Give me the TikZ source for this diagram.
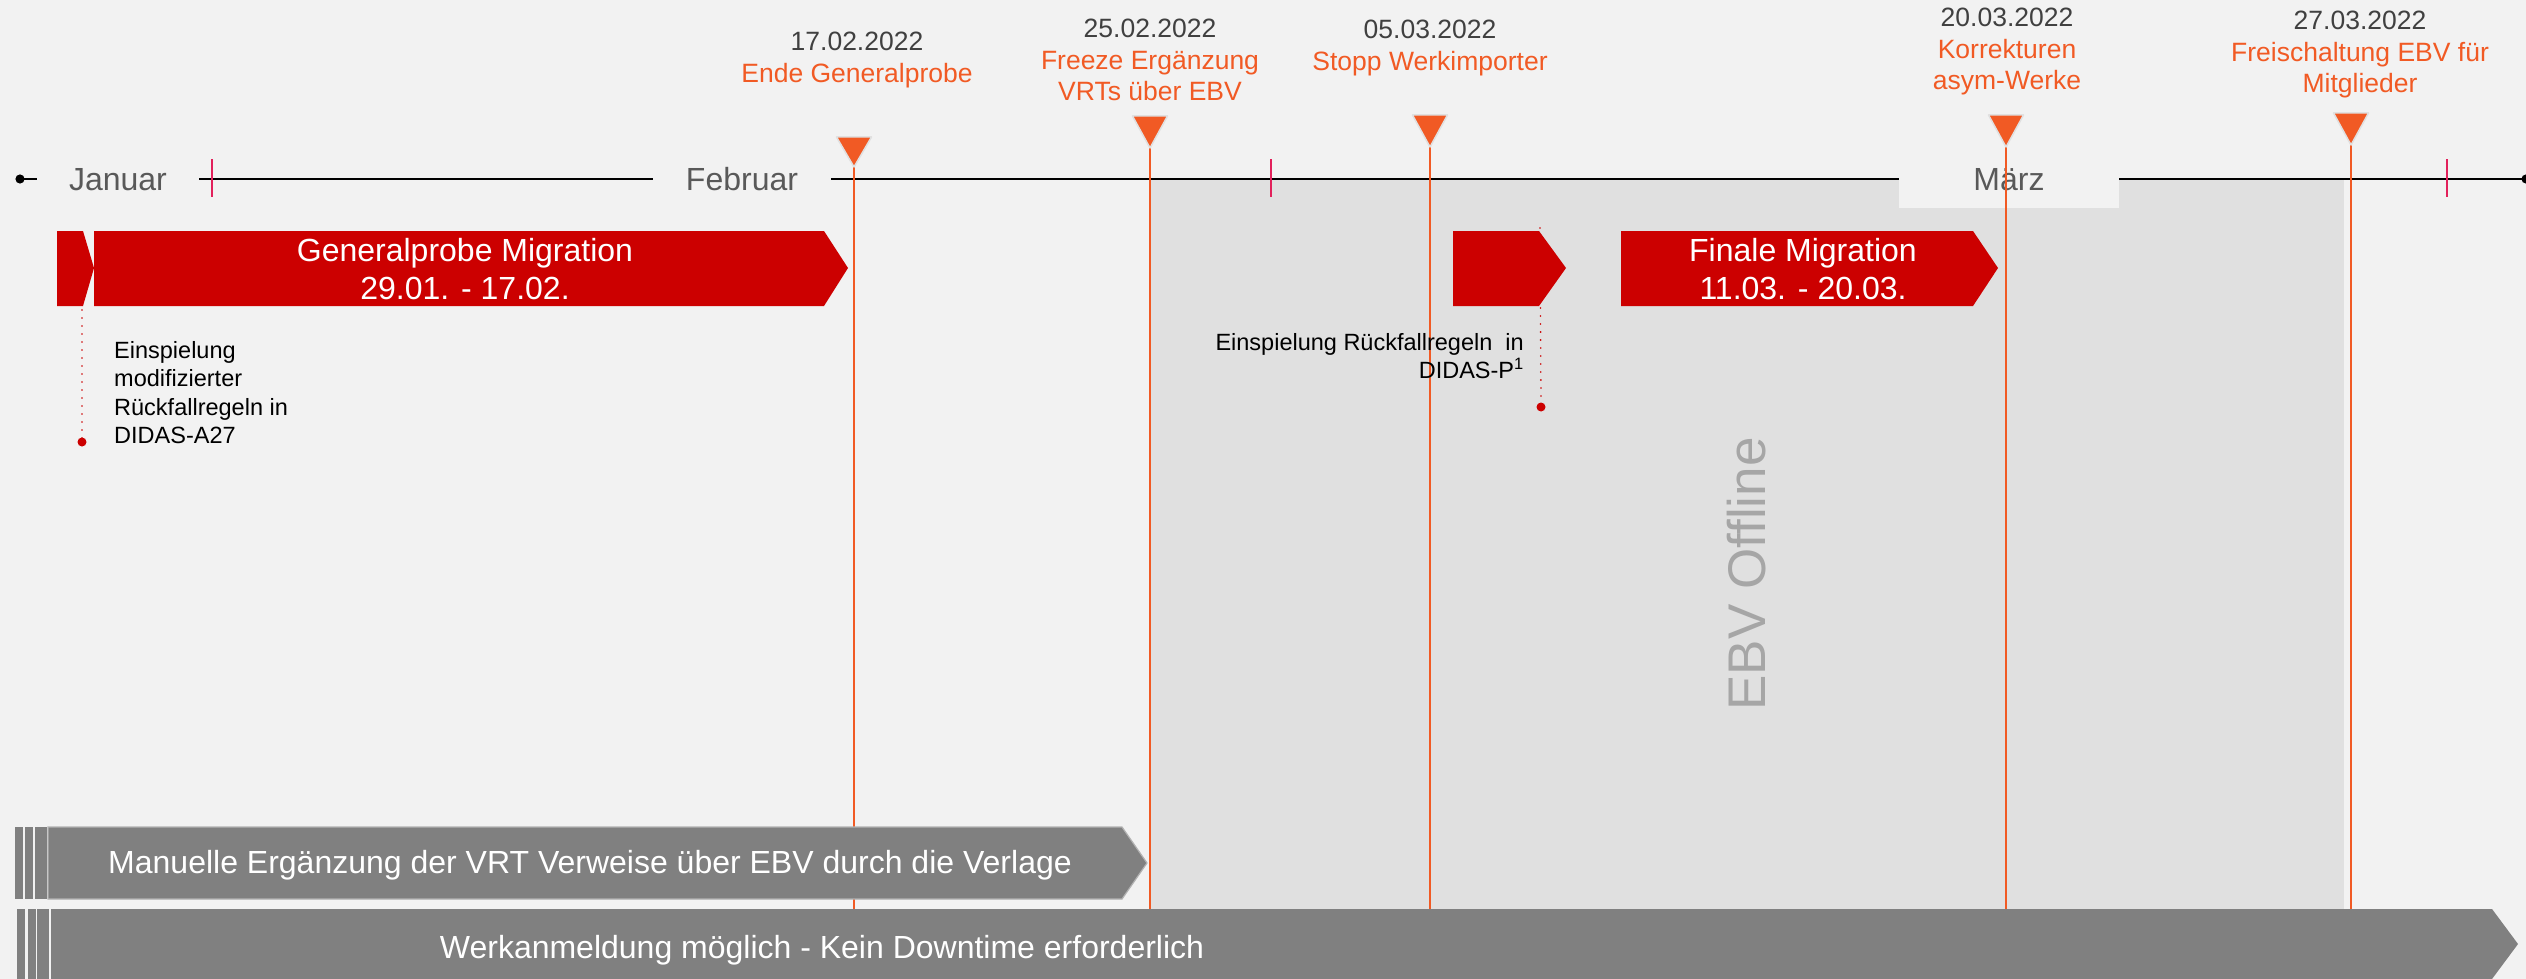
\documentclass[tikz,border=0pt]{standalone}
\usepackage{fontspec}
\setmainfont{Liberation Sans}
\usetikzlibrary{arrows.meta}

\definecolor{bgcol}{HTML}{F2F2F2}
\definecolor{offline}{HTML}{E0E0E0}
\definecolor{migred}{HTML}{CC0000}
\definecolor{msorange}{HTML}{F15A24}
\definecolor{tickcol}{HTML}{E2215B}
\definecolor{bargray}{HTML}{808080}
\definecolor{monthcol}{HTML}{595959}
\definecolor{datecol}{HTML}{404040}
\definecolor{offtext}{HTML}{A6A6A6}

\newcommand{\fsz}[2]{\fontsize{#1}{#2}\selectfont}

\begin{document}
\begin{tikzpicture}
[x=1pt,y=-1pt,
 month/.style={fill=bgcol,text=monthcol,font=\fsz{32}{38},inner sep=0pt,text height=23pt,text depth=0pt},
 monthtick/.style={tickcol,line width=2pt},
 msline/.style={msorange,line width=2pt},
 mstip/.style={fill=msorange,draw=black!12,line width=1.5pt,line join=round},
 datelbl/.style={anchor=north,align=center,text=datecol,font=\fsz{26.5}{31.5},inner sep=0pt},
 redbar/.style={fill=migred},
 bartext/.style={text=white,align=center,font=\fsz{32}{38},inner sep=0pt},
 graybar/.style={fill=bargray},
 note/.style={font=\fsz{23.5}{28.5},inner sep=0pt},
 noteline/.style={migred,line width=1.8pt,line cap=round,dash pattern=on 0pt off 8pt}]
\useasboundingbox (0,0) rectangle (2526,979);
\fill[bgcol] (0,0) rectangle (2526,979);

\fill[offline] (1150,180) rectangle (2344,909);
\node[rotate=90,anchor=base,text=offtext,font=\fsz{53}{60},inner sep=0pt] (offl) at (1765,574) {EBV Offline};

\coordinate (tlstart) at (15.5,179);
\coordinate (tlend) at (2530.5,179);
\draw[line width=2pt,{Circle[length=9pt]}-{Circle[length=9pt]}] (tlstart) -- (tlend);

\node[month,minimum width=162pt] (jan) at (118,179) {Januar};
\node[month,minimum width=178pt] (feb) at (742,179) {Februar};
\node[month,minimum width=220pt,minimum height=58pt] (mar) at (2009,179) {März};

\draw[monthtick] (212,159) -- (212,197);
\draw[monthtick] (1271,159) -- (1271,197);
\draw[monthtick] (2447,159) -- (2447,197);

\coordinate (floor) at (0,909);
\coordinate (ms1) at (854,167);
\coordinate (ms2) at (1150,148);
\coordinate (ms3) at (1430,147);
\coordinate (ms4) at (2006,147);
\coordinate (ms5) at (2351,145);
\draw[msline] (ms1) -- (ms1 |- floor);
\draw[msline] (ms2) -- (ms2 |- floor);
\draw[msline] (ms3) -- (ms3 |- floor);
\draw[msline] (ms4) -- (ms4 |- floor);
\draw[msline] (ms5) -- (ms5 |- floor);
\filldraw[mstip] (ms1) -- ++(-17.5,-30) -- ++(35,0) -- cycle;
\filldraw[mstip] (ms2) -- ++(-17.5,-32) -- ++(35,0) -- cycle;
\filldraw[mstip] (ms3) -- ++(-17.5,-32) -- ++(35,0) -- cycle;
\filldraw[mstip] (ms4) -- ++(-17.5,-32) -- ++(35,0) -- cycle;
\filldraw[mstip] (ms5) -- ++(-17.5,-32) -- ++(35,0) -- cycle;

\node[datelbl] (d1) at (857,32) {17.02.2022\\\textcolor{msorange}{Ende Generalprobe}};
\node[datelbl] (d2) at (1150,19) {25.02.2022\\\textcolor{msorange}{Freeze Ergänzung}\\\textcolor{msorange}{VRTs über EBV}};
\node[datelbl] (d3) at (1430,20) {05.03.2022\\\textcolor{msorange}{Stopp Werkimporter}};
\node[datelbl] (d4) at (2007,8) {20.03.2022\\\textcolor{msorange}{Korrekturen}\\\textcolor{msorange}{asym-Werke}};
\node[datelbl] (d5) at (2360,11) {27.03.2022\\\textcolor{msorange}{Freischaltung EBV für}\\\textcolor{msorange}{Mitglieder}};

\fill[redbar] (57,231) -- (83,231) -- (94,268) -- (83,306) -- (57,306) -- cycle;
\fill[redbar] (94,231) -- (824,231) -- (848,268) -- (824,306) -- (94,306) -- cycle;
\node[bartext] (gpm) at (465,269) {Generalprobe Migration\\29.01. - 17.02.};
\fill[redbar] (1453,231) -- (1539,231) -- (1566,268) -- (1539,306) -- (1453,306) -- cycle;
\fill[redbar] (1621,231) -- (1973,231) -- (1998,268) -- (1973,306) -- (1621,306) -- cycle;
\node[bartext] (fin) at (1803,269) {Finale Migration\\11.03. - 20.03.};

\coordinate (n1a) at (82,310);
\coordinate (n1b) at (82,442);
\draw[noteline] (n1a) -- (n1b);
\fill[migred] (n1b) circle (4.5pt);
\node[note,anchor=north west,align=left] (n1) at (114,341) {Einspielung\\modifizierter\\Rückfallregeln in\\DIDAS-A27};
\coordinate (n2a) at (1540,228);
\coordinate (n2b) at (1541,407);
\draw[noteline] (n2a) -- (n2b);
\fill[migred] (n2b) circle (4.5pt);
\node[note,anchor=north east,align=right] (n2) at (1524,333) {Einspielung Rückfallregeln\ \ in\\DIDAS-P\textsuperscript{1}};

\fill[graybar] (15,827) rectangle (23,899);
\fill[graybar] (25,827) rectangle (33,899);
\fill[graybar] (35,827) rectangle (47,899);
\filldraw[graybar,draw=black!30,line width=1.2pt] (48,827) -- (1122,827) -- (1147,863) -- (1122,899) -- (48,899) -- cycle;
\node[bartext,anchor=base] (man) at (590,873) {Manuelle Ergänzung der VRT Verweise über EBV durch die Verlage};

\fill[graybar] (17,909) rectangle (25,979);
\fill[graybar] (28,909) rectangle (36,979);
\fill[graybar] (37,909) rectangle (49,979);
\fill[graybar] (51,909) -- (2492,909) -- (2518,944) -- (2492,979) -- (51,979) -- cycle;
\node[bartext,anchor=base] (werk) at (822,958) {Werkanmeldung möglich - Kein Downtime erforderlich};
\end{tikzpicture}
\end{document}
